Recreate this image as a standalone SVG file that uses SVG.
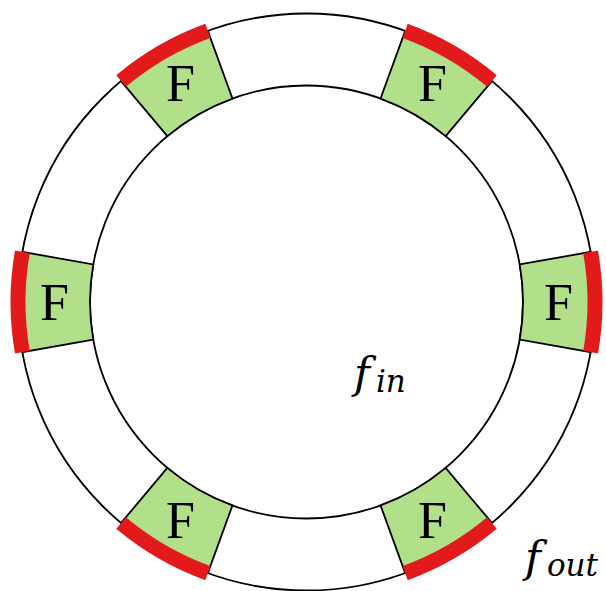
<svg xmlns="http://www.w3.org/2000/svg" xmlns:xlink="http://www.w3.org/1999/xlink" width="606" height="591" viewBox="0 0 606 591">
<style>
.ring{fill:none;stroke:#000;stroke-width:1.8}
.sector{fill:#b2df8a;stroke:#000;stroke-width:1.8;stroke-linejoin:miter}
.band{fill:none;stroke:#e31a1c;stroke-width:15;stroke-linecap:butt}
.lab{font-family:"Liberation Serif","Times New Roman",serif;font-size:52px;fill:#000;text-anchor:middle}
.math{font-family:"DejaVu Serif","Liberation Serif",serif;font-style:italic;fill:#000}
</style>
<defs>
<g id="seg">
<path class="sector" d="M 213.21,-37.59 L 284.12,-50.10 A 288.5 288.5 0 0 1 284.12,50.10 L 213.21,37.59 A 216.5 216.5 0 0 0 213.21,-37.59 Z"/>
<path class="band" d="M 284.12,-50.10 A 288.5 288.5 0 0 1 284.12,50.10"/>
</g>
</defs>
<g id="rings">
<circle class="ring" cx="306.5" cy="302" r="288.5"/>
<circle class="ring" cx="306.5" cy="302" r="216.5"/>
</g>
<g id="F0">
<use xlink:href="#seg" href="#seg" transform="translate(306.5 302)"/>
<text class="lab" x="558.5" y="319.5">F</text>
</g>
<g id="F60">
<use xlink:href="#seg" href="#seg" transform="translate(306.5 302) rotate(-60)"/>
<text class="lab" x="432.5" y="101.3">F</text>
</g>
<g id="F120">
<use xlink:href="#seg" href="#seg" transform="translate(306.5 302) rotate(-120)"/>
<text class="lab" x="180.5" y="101.3">F</text>
</g>
<g id="F180">
<use xlink:href="#seg" href="#seg" transform="translate(306.5 302) rotate(180)"/>
<text class="lab" x="54.5" y="319.5">F</text>
</g>
<g id="F240">
<use xlink:href="#seg" href="#seg" transform="translate(306.5 302) rotate(120)"/>
<text class="lab" x="180.5" y="537.7">F</text>
</g>
<g id="F300">
<use xlink:href="#seg" href="#seg" transform="translate(306.5 302) rotate(60)"/>
<text class="lab" x="432.5" y="537.7">F</text>
</g>
<g id="connectors"></g>
<g id="fin">
<text class="math" x="354" y="388" font-size="43">f<tspan font-size="31" dx="6" dy="4">in</tspan></text>
</g>
<g id="fout">
<text class="math" x="525" y="572" font-size="43">f<tspan font-size="31" dx="6" dy="4">out</tspan></text>
</g>
</svg>
